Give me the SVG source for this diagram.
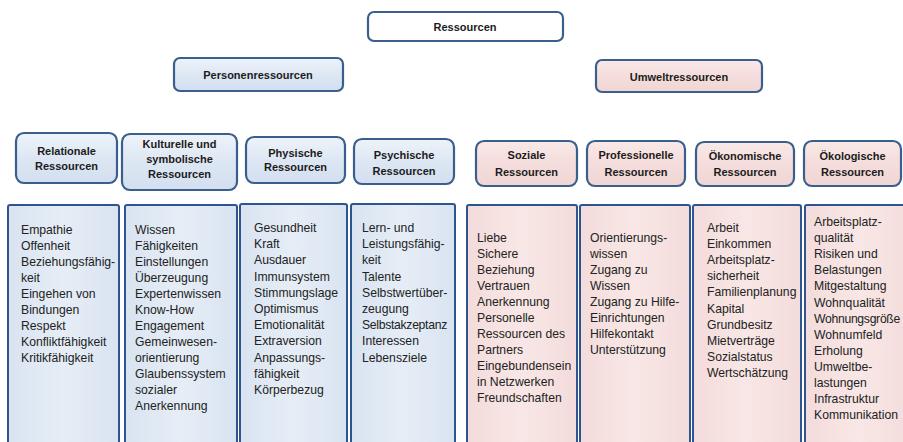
<svg xmlns="http://www.w3.org/2000/svg" width="903" height="442" viewBox="0 0 903 442">
  <defs>
    <linearGradient id="gBlue" x1="0" y1="0" x2="0" y2="1">
      <stop offset="0" stop-color="#eef3fa"/>
      <stop offset="0.5" stop-color="#dde7f3"/>
      <stop offset="1" stop-color="#d3dff0"/>
    </linearGradient>
    <linearGradient id="gPink" x1="0" y1="0" x2="0" y2="1">
      <stop offset="0" stop-color="#f9e9e8"/>
      <stop offset="0.5" stop-color="#f4dddc"/>
      <stop offset="1" stop-color="#f0d6d5"/>
    </linearGradient>
    <linearGradient id="gBlueList" x1="0" y1="0" x2="1" y2="0">
      <stop offset="0" stop-color="#d9e4f1"/>
      <stop offset="0.5" stop-color="#e6edf6"/>
      <stop offset="1" stop-color="#d9e4f1"/>
    </linearGradient>
    <linearGradient id="gPinkList" x1="0" y1="0" x2="1" y2="0">
      <stop offset="0" stop-color="#f3dcdb"/>
      <stop offset="0.5" stop-color="#f8e7e6"/>
      <stop offset="1" stop-color="#f3dcdb"/>
    </linearGradient>
  </defs>
  <style>
    .hdr { stroke: #3a5f8c; stroke-width: 2.2; }
    .blue { fill: url(#gBlue); }
    .pink { fill: url(#gPink); }
    .lst { stroke: #2f5590; stroke-width: 2; }
    .blst { fill: url(#gBlueList); }
    .plst { fill: url(#gPinkList); }
    .ht { font-family: "Liberation Sans", Arial, sans-serif; font-size: 11px; font-weight: bold; fill: #1c1c1c; text-anchor: middle; }
    .lt { font-family: "Liberation Sans", Arial, sans-serif; font-size: 12.2px; fill: #222222; }
    .tight { letter-spacing: -0.3px; }
  </style>
  <rect width="903" height="442" fill="#ffffff"/>

  <!-- top level -->
  <g id="ressourcen">
    <rect x="368" y="12" width="195" height="29" rx="6" class="hdr" fill="#ffffff"/>
    <text x="465" y="31" class="ht">Ressourcen</text>
  </g>

  <!-- second level -->
  <g id="personenressourcen">
    <rect x="174" y="58" width="169" height="33" rx="6" class="hdr blue"/>
    <text x="258" y="79" class="ht">Personenressourcen</text>
  </g>
  <g id="umweltressourcen">
    <rect x="596" y="60" width="166" height="32" rx="6" class="hdr pink"/>
    <text x="679" y="81" class="ht">Umweltressourcen</text>
  </g>

  <!-- category headers -->
  <g id="relationale">
    <rect x="16" y="133" width="101" height="50" rx="8" class="hdr blue"/>
    <text x="66.5" y="155" class="ht">Relationale</text>
    <text x="66.5" y="170" class="ht">Ressourcen</text>
  </g>
  <g id="kulturelle">
    <rect x="122" y="134" width="115" height="56" rx="8" class="hdr blue"/>
    <text x="179.5" y="148" class="ht">Kulturelle und</text>
    <text x="179.5" y="163" class="ht">symbolische</text>
    <text x="179.5" y="178" class="ht">Ressourcen</text>
  </g>
  <g id="physische">
    <rect x="246" y="137" width="99" height="46" rx="8" class="hdr blue"/>
    <text x="295.5" y="157" class="ht">Physische</text>
    <text x="295.5" y="171" class="ht">Ressourcen</text>
  </g>
  <g id="psychische">
    <rect x="354" y="139" width="100" height="45" rx="8" class="hdr blue"/>
    <text x="404" y="159" class="ht">Psychische</text>
    <text x="404" y="175" class="ht">Ressourcen</text>
  </g>
  <g id="soziale">
    <rect x="476" y="141" width="101" height="45" rx="8" class="hdr pink"/>
    <text x="526.5" y="159" class="ht">Soziale</text>
    <text x="526.5" y="176" class="ht">Ressourcen</text>
  </g>
  <g id="professionelle">
    <rect x="587" y="141" width="98" height="45" rx="8" class="hdr pink"/>
    <text x="636" y="159" class="ht">Professionelle</text>
    <text x="636" y="176" class="ht">Ressourcen</text>
  </g>
  <g id="oekonomische">
    <rect x="696" y="142" width="98" height="44" rx="8" class="hdr pink"/>
    <text x="745" y="160" class="ht">Ökonomische</text>
    <text x="745" y="176" class="ht">Ressourcen</text>
  </g>
  <g id="oekologische">
    <rect x="804" y="141" width="97" height="45" rx="8" class="hdr pink"/>
    <text x="852.5" y="160" class="ht">Ökologische</text>
    <text x="852.5" y="176" class="ht">Ressourcen</text>
  </g>

  <!-- item lists -->
  <g id="liste-relationale">
    <rect x="8" y="205" width="111" height="250" rx="2" class="lst blst"/>
    <text class="lt" x="21" y="234">
      <tspan x="21" dy="0">Empathie</tspan>
      <tspan x="21" dy="16">Offenheit</tspan>
      <tspan x="21" dy="16">Beziehungsfähig-</tspan>
      <tspan x="21" dy="16">keit</tspan>
      <tspan x="21" dy="16">Eingehen von</tspan>
      <tspan x="21" dy="16">Bindungen</tspan>
      <tspan x="21" dy="16">Respekt</tspan>
      <tspan x="21" dy="16">Konfliktfähigkeit</tspan>
      <tspan x="21" dy="16">Kritikfähigkeit</tspan>
    </text>
  </g>
  <g id="liste-kulturelle">
    <rect x="125" y="205" width="112" height="250" rx="2" class="lst blst"/>
    <text class="lt" x="135" y="234">
      <tspan x="135" dy="0">Wissen</tspan>
      <tspan x="135" dy="16">Fähigkeiten</tspan>
      <tspan x="135" dy="16">Einstellungen</tspan>
      <tspan x="135" dy="16">Überzeugung</tspan>
      <tspan x="135" dy="16">Expertenwissen</tspan>
      <tspan x="135" dy="16">Know-How</tspan>
      <tspan x="135" dy="16">Engagement</tspan>
      <tspan x="135" dy="16">Gemeinwesen-</tspan>
      <tspan x="135" dy="16">orientierung</tspan>
      <tspan x="135" dy="16">Glaubenssystem</tspan>
      <tspan x="135" dy="16">sozialer</tspan>
      <tspan x="135" dy="16">Anerkennung</tspan>
    </text>
  </g>
  <g id="liste-physische">
    <rect x="240" y="204" width="107" height="250" rx="2" class="lst blst"/>
    <text class="lt" x="254" y="232">
      <tspan x="254" dy="0">Gesundheit</tspan>
      <tspan x="254" dy="16.2">Kraft</tspan>
      <tspan x="254" dy="16.2">Ausdauer</tspan>
      <tspan x="254" dy="16.2">Immunsystem</tspan>
      <tspan x="254" dy="16.2">Stimmungslage</tspan>
      <tspan x="254" dy="16.2">Optimismus</tspan>
      <tspan x="254" dy="16.2">Emotionalität</tspan>
      <tspan x="254" dy="16.2">Extraversion</tspan>
      <tspan x="254" dy="16.2">Anpassungs-</tspan>
      <tspan x="254" dy="16.2">fähigkeit</tspan>
      <tspan x="254" dy="16.2">Körperbezug</tspan>
    </text>
  </g>
  <g id="liste-psychische">
    <rect x="351" y="204" width="104" height="250" rx="2" class="lst blst"/>
    <text class="lt" x="362" y="232">
      <tspan x="362" dy="0">Lern- und</tspan>
      <tspan x="362" dy="16.2">Leistungsfähig-</tspan>
      <tspan x="362" dy="16.2">keit</tspan>
      <tspan x="362" dy="16.2">Talente</tspan>
      <tspan x="362" dy="16.2">Selbstwertüber-</tspan>
      <tspan x="362" dy="16.2">zeugung</tspan>
      <tspan x="362" dy="16.2" class="tight">Selbstakzeptanz</tspan>
      <tspan x="362" dy="16.2">Interessen</tspan>
      <tspan x="362" dy="16.2">Lebensziele</tspan>
    </text>
  </g>
  <g id="liste-soziale">
    <rect x="467" y="205" width="110" height="250" rx="2" class="lst plst"/>
    <text class="lt" x="477" y="242">
      <tspan x="477" dy="0">Liebe</tspan>
      <tspan x="477" dy="16">Sichere</tspan>
      <tspan x="477" dy="16">Beziehung</tspan>
      <tspan x="477" dy="16">Vertrauen</tspan>
      <tspan x="477" dy="16">Anerkennung</tspan>
      <tspan x="477" dy="16">Personelle</tspan>
      <tspan x="477" dy="16">Ressourcen des</tspan>
      <tspan x="477" dy="16">Partners</tspan>
      <tspan x="477" dy="16">Eingebundensein</tspan>
      <tspan x="477" dy="16">in Netzwerken</tspan>
      <tspan x="477" dy="16">Freundschaften</tspan>
    </text>
  </g>
  <g id="liste-professionelle">
    <rect x="580" y="205" width="110" height="250" rx="2" class="lst plst"/>
    <text class="lt" x="590" y="242">
      <tspan x="590" dy="0">Orientierungs-</tspan>
      <tspan x="590" dy="16">wissen</tspan>
      <tspan x="590" dy="16">Zugang zu</tspan>
      <tspan x="590" dy="16">Wissen</tspan>
      <tspan x="590" dy="16">Zugang zu Hilfe-</tspan>
      <tspan x="590" dy="16">Einrichtungen</tspan>
      <tspan x="590" dy="16">Hilfekontakt</tspan>
      <tspan x="590" dy="16">Unterstützung</tspan>
    </text>
  </g>
  <g id="liste-oekonomische">
    <rect x="693" y="205" width="108" height="250" rx="2" class="lst plst"/>
    <text class="lt" x="707" y="232">
      <tspan x="707" dy="0">Arbeit</tspan>
      <tspan x="707" dy="16.1">Einkommen</tspan>
      <tspan x="707" dy="16.1">Arbeitsplatz-</tspan>
      <tspan x="707" dy="16.1">sicherheit</tspan>
      <tspan x="707" dy="16.1">Familienplanung</tspan>
      <tspan x="707" dy="16.1">Kapital</tspan>
      <tspan x="707" dy="16.1">Grundbesitz</tspan>
      <tspan x="707" dy="16.1">Mietverträge</tspan>
      <tspan x="707" dy="16.1">Sozialstatus</tspan>
      <tspan x="707" dy="16.1">Wertschätzung</tspan>
    </text>
  </g>
  <g id="liste-oekologische">
    <rect x="805" y="205" width="110" height="250" rx="2" class="lst plst"/>
    <text class="lt" x="814" y="226">
      <tspan x="814" dy="0">Arbeitsplatz-</tspan>
      <tspan x="814" dy="16.1">qualität</tspan>
      <tspan x="814" dy="16.1">Risiken und</tspan>
      <tspan x="814" dy="16.1">Belastungen</tspan>
      <tspan x="814" dy="16.1">Mitgestaltung</tspan>
      <tspan x="814" dy="16.1">Wohnqualität</tspan>
      <tspan x="814" dy="16.1" class="tight">Wohnungsgröße</tspan>
      <tspan x="814" dy="16.1">Wohnumfeld</tspan>
      <tspan x="814" dy="16.1">Erholung</tspan>
      <tspan x="814" dy="16.1">Umweltbe-</tspan>
      <tspan x="814" dy="16.1">lastungen</tspan>
      <tspan x="814" dy="16.1">Infrastruktur</tspan>
      <tspan x="814" dy="16.1">Kommunikation</tspan>
    </text>
  </g>

  <!-- this chart has no connecting lines -->
  <g id="connectors"/>
</svg>
